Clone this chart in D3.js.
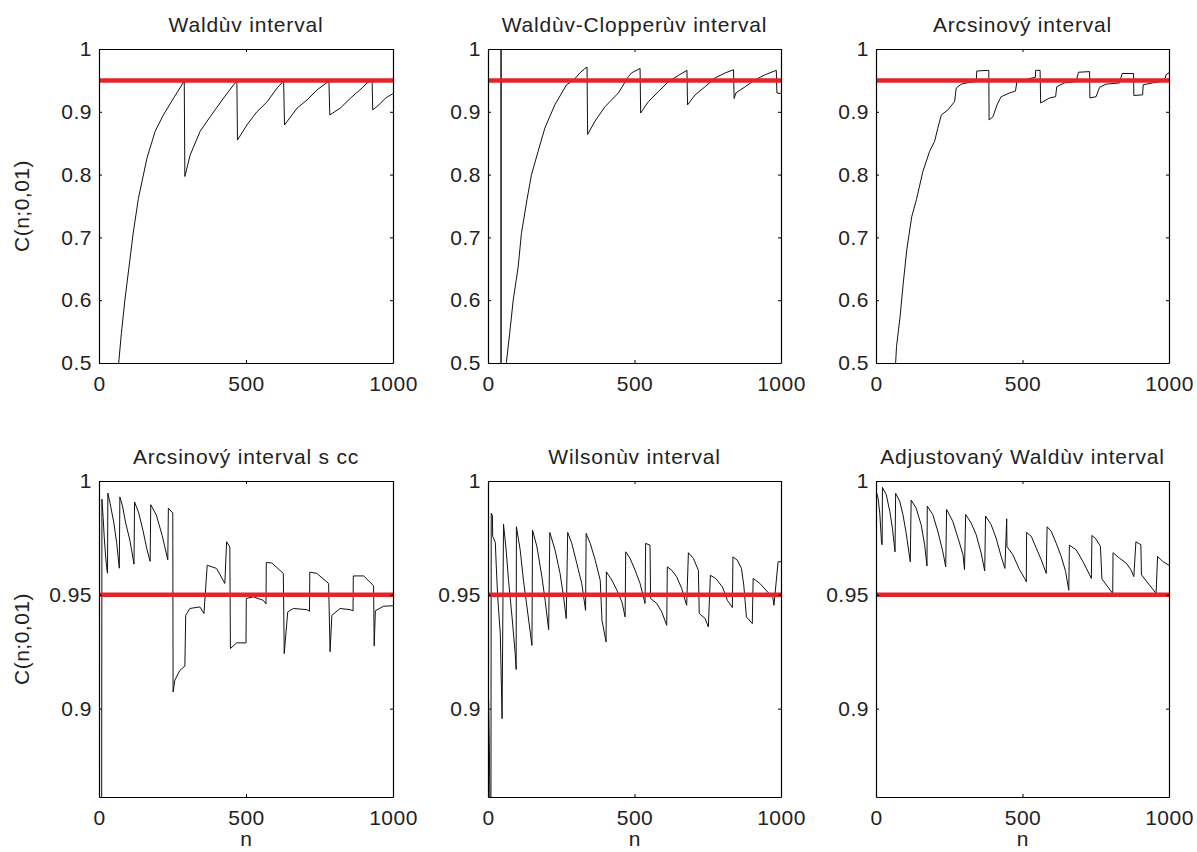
<!DOCTYPE html>
<html>
<head>
<meta charset="utf-8">
<script src="https://cdn.jsdelivr.net/npm/d3@7"></script>
<style>
  body { margin: 0; background: #fff; }
  svg { display: block; }
  text { font-family: "Liberation Sans", Arial, sans-serif; fill: #222; }
</style>
</head>
<body>
<div id="chart"></div>
<script>
// values: [n, C(n;0,01)]
const titles = [
  'Waldùv interval', 'Waldùv-Clopperùv interval', 'Arcsinový interval',
  'Arcsinový interval s cc', 'Wilsonùv interval', 'Adjustovaný Waldùv interval'
]

const wald = [
  [67, 0.500], [76, 0.547], [88, 0.600], [105, 0.664], [116, 0.706], [134, 0.762], [163, 0.826],
  [191, 0.869], [219, 0.895], [254, 0.922], [282, 0.943], [290, 0.949], [292, 0.797], [310, 0.831],
  [344, 0.869], [378, 0.892], [424, 0.922], [458, 0.943], [469, 0.949], [471, 0.855], [503, 0.879],
  [537, 0.900], [572, 0.916], [606, 0.938], [628, 0.949], [631, 0.879], [674, 0.906], [708, 0.919],
  [742, 0.935], [782, 0.949], [785, 0.895], [821, 0.906], [856, 0.922], [895, 0.938], [912, 0.946],
  [929, 0.950], [931, 0.903], [952, 0.911], [975, 0.922], [1000, 0.929]
]

const waldClopper = [
  [44.5, 0.49], [44.5, 1.0], [44.5, 0.49], [62, 0.49], [63, 0.502], [74, 0.547], [86, 0.600], [103, 0.653],
  [114, 0.706], [133, 0.760], [148, 0.799], [171, 0.837], [194, 0.874], [228, 0.911], [268, 0.943],
  [291, 0.950], [314, 0.962], [331, 0.969], [338, 0.971], [340, 0.864], [365, 0.885], [399, 0.908],
  [445, 0.930], [479, 0.956], [490, 0.962], [519, 0.969], [521, 0.898], [547, 0.916], [581, 0.932],
  [616, 0.948], [650, 0.958], [679, 0.966], [681, 0.911], [707, 0.927], [741, 0.940], [775, 0.954],
  [810, 0.962], [838, 0.967], [840, 0.921], [846, 0.930], [878, 0.940], [912, 0.951], [946, 0.959],
  [978, 0.965], [984, 0.966], [986, 0.930], [1000, 0.929]
]

const arcsine = [
  [67, 0.500], [70, 0.526], [82, 0.573], [93, 0.627], [105, 0.680], [122, 0.733], [138, 0.760],
  [160, 0.805], [183, 0.837], [200, 0.853], [211, 0.874], [223, 0.895], [245, 0.903], [268, 0.916],
  [274, 0.938], [291, 0.944], [319, 0.947], [342, 0.948], [344, 0.965], [385, 0.966], [386, 0.887],
  [399, 0.892], [413, 0.911], [427, 0.924], [456, 0.930], [476, 0.933], [481, 0.948], [524, 0.953],
  [544, 0.955], [545, 0.966], [560, 0.966], [562, 0.914], [570, 0.916], [592, 0.922], [613, 0.924],
  [617, 0.940], [643, 0.946], [683, 0.948], [691, 0.963], [729, 0.964], [730, 0.922], [751, 0.924],
  [763, 0.939], [785, 0.944], [831, 0.946], [840, 0.961], [879, 0.961], [880, 0.926], [910, 0.927],
  [912, 0.943], [944, 0.946], [984, 0.949], [990, 0.959], [1000, 0.962]
]

const arcsineCC = [
  [9, 0.85], [10, 0.992], [14, 0.984], [18, 0.975], [22, 0.968], [26, 0.962], [29, 0.9595],
  [30, 0.9947], [38, 0.990], [50, 0.982], [60, 0.973], [69, 0.9617], [71, 0.993], [80, 0.989],
  [90, 0.982], [105, 0.974], [119, 0.9635], [121, 0.9908], [135, 0.986], [150, 0.978], [163, 0.970],
  [174, 0.9647], [176, 0.9896], [195, 0.985], [215, 0.976], [234, 0.9654], [236, 0.9881],
  [251, 0.9859], [252, 0.9073], [258, 0.9125], [275, 0.9168], [292, 0.9187], [295, 0.941],
  [309, 0.944], [343, 0.9447], [357, 0.9418], [368, 0.963], [400, 0.9616], [428, 0.955],
  [434, 0.9733], [445, 0.971], [447, 0.9264], [468, 0.9289], [500, 0.9289], [501, 0.9484],
  [525, 0.9491], [559, 0.9476], [568, 0.946], [569, 0.9642], [588, 0.964], [627, 0.9594],
  [630, 0.9242], [642, 0.9425], [661, 0.944], [707, 0.9435], [716, 0.9428], [717, 0.960],
  [741, 0.9594], [781, 0.955], [786, 0.925], [792, 0.941], [820, 0.944], [854, 0.9435],
  [864, 0.943], [865, 0.9583], [900, 0.9583], [934, 0.954], [936, 0.9276], [940, 0.943],
  [968, 0.945], [1000, 0.9452]
]

const wilson = [
  [1, 0.885], [2, 0.904], [5, 0.88], [7, 0.85], [10, 0.85], [11, 0.9858], [15, 0.985], [16, 0.9757],
  [25, 0.973], [28, 0.9632], [33, 0.9493], [42, 0.933], [48, 0.8956], [53, 0.981], [62, 0.9696],
  [70, 0.9564], [82, 0.9403], [93, 0.924], [96, 0.9172], [97, 0.9799], [110, 0.9696], [121, 0.9564],
  [133, 0.9447], [150, 0.9278], [152, 0.9784], [167, 0.9711], [184, 0.9579], [195, 0.9476],
  [207, 0.9347], [211, 0.9774], [229, 0.9696], [246, 0.9594], [258, 0.949], [267, 0.9396],
  [272, 0.9774], [286, 0.9726], [303, 0.9638], [320, 0.955], [333, 0.9432], [335, 0.977],
  [349, 0.9726], [366, 0.9652], [383, 0.9564], [389, 0.9388], [403, 0.9293], [404, 0.9601],
  [423, 0.9564], [440, 0.952], [457, 0.9469], [468, 0.9403], [470, 0.9689], [485, 0.966],
  [502, 0.9608], [519, 0.955], [536, 0.9462], [538, 0.9726], [553, 0.9718], [555, 0.9484],
  [576, 0.9462], [593, 0.9425], [610, 0.9366], [612, 0.9623], [627, 0.9608], [644, 0.9579],
  [661, 0.9528], [678, 0.9454], [684, 0.9685], [701, 0.966], [718, 0.9608], [721, 0.9418],
  [741, 0.9396], [752, 0.9359], [759, 0.9586], [777, 0.9572], [800, 0.9535], [817, 0.9476],
  [834, 0.9444], [836, 0.9667], [851, 0.9652], [865, 0.9616], [873, 0.9542], [882, 0.9403],
  [902, 0.9374], [905, 0.9572], [928, 0.955], [957, 0.9509], [972, 0.9491], [976, 0.9454],
  [990, 0.9645], [1000, 0.9645]
]

const adjWald = [
  [1, 0.9953], [7, 0.9925], [13, 0.9858], [19, 0.9726], [21, 0.972], [22, 0.9972], [35, 0.994],
  [47, 0.9867], [56, 0.9793], [65, 0.9689], [67, 0.9946], [81, 0.9911], [92, 0.9852], [103, 0.9771],
  [117, 0.9645], [120, 0.9916], [137, 0.9881], [154, 0.9808], [166, 0.972], [174, 0.9627],
  [175, 0.989], [194, 0.9852], [211, 0.9779], [228, 0.969], [238, 0.9623], [241, 0.9875],
  [262, 0.9823], [280, 0.9749], [297, 0.9676], [302, 0.9611], [306, 0.9853], [325, 0.9815],
  [342, 0.9764], [359, 0.9683], [371, 0.9605], [374, 0.9846], [393, 0.9808], [410, 0.9749],
  [427, 0.9669], [440, 0.9616], [446, 0.9834], [447, 0.9712], [467, 0.9676], [490, 0.961],
  [507, 0.9573], [513, 0.9557], [514, 0.9774], [530, 0.9757], [547, 0.9705], [564, 0.9654],
  [581, 0.9594], [584, 0.9799], [598, 0.9779], [615, 0.9727], [632, 0.9669], [647, 0.9603],
  [658, 0.952], [660, 0.9718], [683, 0.9698], [706, 0.9647], [729, 0.9588], [735, 0.9572],
  [737, 0.9761], [751, 0.9745], [766, 0.9713], [771, 0.957], [808, 0.9506], [809, 0.9685],
  [831, 0.9661], [854, 0.9639], [870, 0.961], [880, 0.958], [887, 0.9733], [904, 0.972],
  [906, 0.9588], [956, 0.9506], [961, 0.9669], [978, 0.9647], [1000, 0.963]
]

const target = 0.95
const xTicks = [0, 500, 1000]
const xTickLabels = ['0', '500', '1000']
const topYTicks = [0.5, 0.6, 0.7, 0.8, 0.9, 1]
const topYTickLabels = ['0.5', '0.6', '0.7', '0.8', '0.9', '1']
const bottomYTicks = [0.9, 0.95, 1]
const bottomYTickLabels = ['0.9', '0.95', '1']
const yLabel = 'C(n;0,01)'
const xLabel = 'n'

const width = 1197
const height = 852
const cols = [[99, 393], [488, 781], [876, 1169]]
const rows = [[49, 363], [481, 797]]

const panels = [
  { data: wald, row: 0, col: 0 },
  { data: waldClopper, row: 0, col: 1 },
  { data: arcsine, row: 0, col: 2 },
  { data: arcsineCC, row: 1, col: 0 },
  { data: wilson, row: 1, col: 1 },
  { data: adjWald, row: 1, col: 2 }
]

const svg = d3.select('#chart').append('svg')
  .attr('width', width)
  .attr('height', height)

panels.forEach((p, i) => {
  const [x0, x1] = cols[p.col]
  const [y0, y1] = rows[p.row]
  const top = p.row === 0
  const yTicks = top ? topYTicks : bottomYTicks
  const yLabels = top ? topYTickLabels : bottomYTickLabels

  const x = d3.scaleLinear().domain([0, 1000]).range([x0, x1])
  const y = d3.scaleLinear().domain(top ? [0.5, 1] : [0.8612, 1]).range([y1, y0])

  const g = svg.append('g')

  g.append('clipPath').attr('id', 'clip' + i)
    .append('rect')
    .attr('x', x0).attr('y', y0)
    .attr('width', x1 - x0).attr('height', y1 - y0)

  const line = d3.line()
    .x(d => x(d[0]))
    .y(d => y(d[1]))

  g.append('path')
    .datum(p.data)
    .attr('clip-path', 'url(#clip' + i + ')')
    .attr('fill', 'none')
    .attr('stroke', '#111')
    .attr('stroke-width', 1)
    .attr('d', line)

  // reference level 0.95
  g.append('line')
    .attr('x1', x0).attr('x2', x1)
    .attr('y1', y(target)).attr('y2', y(target))
    .attr('stroke', '#e3242b')
    .attr('stroke-width', 4.5)

  const styleAxis = sel => {
    sel.selectAll('path, line').attr('stroke', '#000')
    sel.selectAll('text')
      .attr('font-size', 21)
      .attr('letter-spacing', '0.5px')
      .attr('fill', '#222')
  }

  g.append('g')
    .attr('transform', 'translate(' + x0 + ',0)')
    .call(d3.axisLeft(y).tickValues(yTicks).tickFormat((d, k) => yLabels[k])
      .tickSizeInner(-3).tickSizeOuter(0).tickPadding(7))
    .call(styleAxis)

  g.append('g')
    .attr('transform', 'translate(' + x1 + ',0)')
    .call(d3.axisRight(y).tickValues(yTicks).tickFormat('')
      .tickSizeInner(-3).tickSizeOuter(0))
    .call(styleAxis)

  g.append('g')
    .attr('transform', 'translate(0,' + y1 + ')')
    .call(d3.axisBottom(x).tickValues(xTicks).tickFormat((d, k) => xTickLabels[k])
      .tickSizeInner(-3).tickSizeOuter(0).tickPadding(13))
    .call(styleAxis)

  g.append('g')
    .attr('transform', 'translate(0,' + y0 + ')')
    .call(d3.axisTop(x).tickValues(xTicks).tickFormat('')
      .tickSizeInner(-3).tickSizeOuter(0))
    .call(styleAxis)

  g.selectAll('.domain').attr('stroke-width', 1.2)

  g.append('text')
    .attr('x', (x0 + x1) / 2)
    .attr('y', y0 - 17)
    .attr('text-anchor', 'middle')
    .attr('font-size', 21)
    .attr('letter-spacing', '0.8px')
    .text(titles[i])

  if (p.col === 0) {
    g.append('text')
      .attr('transform', 'translate(29,' + ((y0 + y1) / 2) + ') rotate(-90)')
      .attr('text-anchor', 'middle')
      .attr('font-size', 21)
      .attr('letter-spacing', '0.5px')
      .text(yLabel)
  }

  if (p.row === 1) {
    g.append('text')
      .attr('x', (x0 + x1) / 2)
      .attr('y', 846)
      .attr('text-anchor', 'middle')
      .attr('font-size', 21)
      .text(xLabel)
  }
})
</script>
</body>
</html>
